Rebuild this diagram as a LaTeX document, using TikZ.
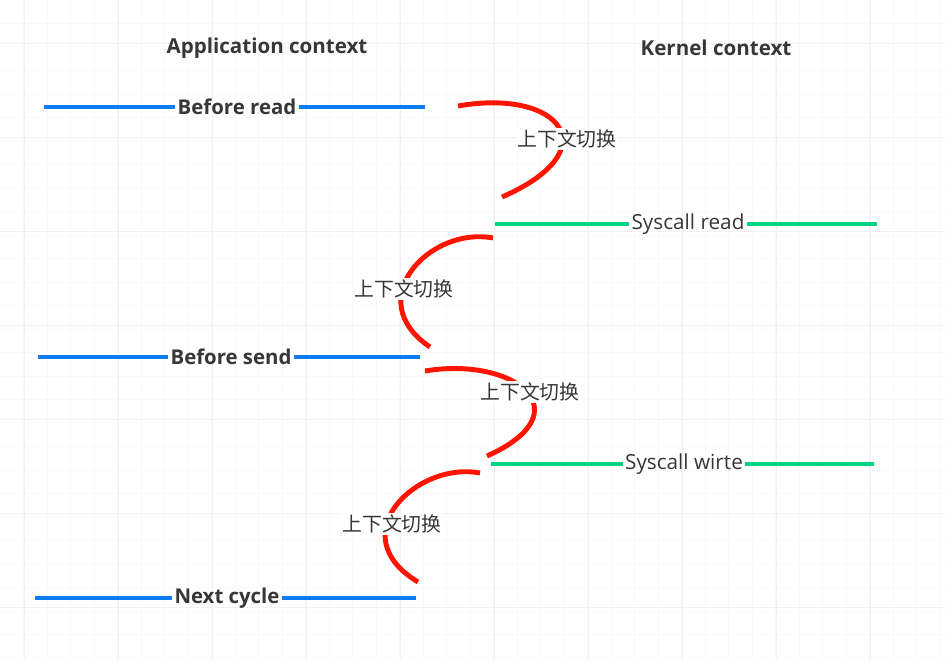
\documentclass[tikz,border=0pt]{standalone}
\usepackage{fontspec}
\setmainfont{Open Sans}
\newfontfamily\cjk{Noto Sans CJK SC}
\definecolor{appblue}{RGB}{10,125,245}
\definecolor{kerngreen}{RGB}{0,212,130}
\definecolor{switchred}{RGB}{255,20,0}
\definecolor{txtgray}{RGB}{55,55,55}
\tikzset{
  gridminor/.style={draw=gray!5,line width=0.4pt},
  gridmajor/.style={draw=gray!11,line width=0.5pt},
  appbar/.style={draw=appblue,line width=2.8pt},
  kernbar/.style={draw=kerngreen,line width=2.8pt},
  switchline/.style={draw=switchred,line width=2.8pt},
  heading/.style={text=txtgray,font=\fontsize{11.7}{14}\selectfont\bfseries},
  applabel/.style={text=txtgray,font=\fontsize{11.6}{14}\selectfont\bfseries,inner sep=1.2pt},
  kernlabel/.style={text=txtgray,font=\fontsize{11.8}{14}\selectfont,inner sep=1.2pt},
  switchlabel/.style={text=txtgray,font=\cjk\fontsize{11.3}{13}\selectfont,fill=white,inner sep=1pt}
}
\begin{document}
\begin{tikzpicture}[x=0.02cm,y=-0.02cm]
\useasboundingbox[fill=white] (0,0) rectangle (945,661);
\foreach \gx in {23.5,47,...,945} \draw[gridminor] (\gx,0) -- (\gx,661);
\foreach \gy in {23.5,47,...,661} \draw[gridminor] (0,\gy) -- (945,\gy);
\foreach \gx in {24,118,...,945} \draw[gridmajor] (\gx,0) -- (\gx,661);
\foreach \gy in {43,137,...,661} \draw[gridmajor] (0,\gy) -- (945,\gy);

\node[heading] (appctx) at (267,48) {Application context};
\node[heading] (kernctx) at (716,48) {Kernel context};

\coordinate (br-w) at (44,107);
\coordinate (br-e) at (425,107);
\node[applabel] (beforeread) at (237,107) {Before read};
\draw[appbar] (br-w) -- (beforeread) -- (br-e);

\coordinate (sr-w) at (495,224);
\coordinate (sr-e) at (877,224);
\node[kernlabel] (sysread) at (688,224) {Syscall read};
\draw[kernbar] (sr-w) -- (sysread) -- (sr-e);

\coordinate (bs-w) at (38,357);
\coordinate (bs-e) at (420,357);
\node[applabel] (beforesend) at (231,357) {Before send};
\draw[appbar] (bs-w) -- (beforesend) -- (bs-e);

\coordinate (sw-w) at (491,464);
\coordinate (sw-e) at (874,464);
\node[kernlabel] (syswrite) at (684,464) {Syscall wirte};
\draw[kernbar] (sw-w) -- (syswrite) -- (sw-e);

\coordinate (nc-w) at (35,598);
\coordinate (nc-e) at (416,598);
\node[applabel] (nextcycle) at (227,598) {Next cycle};
\draw[appbar] (nc-w) -- (nextcycle) -- (nc-e);

\coordinate (s1a) at (458,106);
\coordinate (s1b) at (502,197);
\draw[switchline] (s1a) .. controls (560,88) and (610,150) .. (s1b);
\node[switchlabel] (switch1) at (567,139) {上下文切换};

\coordinate (s2a) at (493,238);
\coordinate (s2b) at (430,347);
\draw[switchline] (s2a) .. controls (430,226) and (360,300) .. (s2b);
\node[switchlabel] (switch2) at (404,289) {上下文切换};

\coordinate (s3a) at (425,371);
\coordinate (s3b) at (487,456);
\draw[switchline] (s3a) .. controls (515,356) and (585,412) .. (s3b);
\node[switchlabel] (switch3) at (530,392) {上下文切换};

\coordinate (s4a) at (480,473);
\coordinate (s4b) at (418,582);
\draw[switchline] (s4a) .. controls (417,461) and (340,535) .. (s4b);
\node[switchlabel] (switch4) at (392,524) {上下文切换};
\end{tikzpicture}
\end{document}
